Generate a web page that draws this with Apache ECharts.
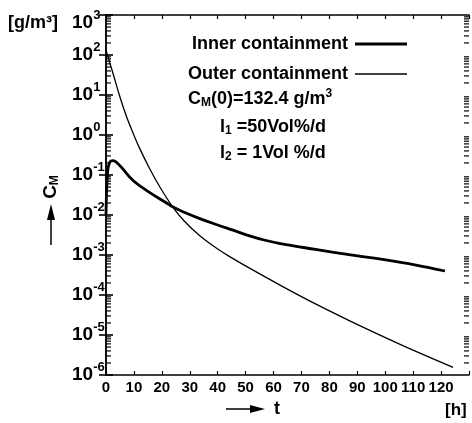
<!DOCTYPE html>
<html><head><meta charset="utf-8">
<script src="https://cdn.jsdelivr.net/npm/echarts@6/dist/echarts.min.js"></script>
<style>html,body{margin:0;padding:0;background:#fff}#c{width:472px;height:423px}</style>
</head><body><div id="c"></div>
<script>
// ---- data ----
const timeInner = [0, 0.5, 1.2, 2.5, 5, 9.8, 15.7, 21.7, 24, 28, 33.6, 40, 45.5, 51.4, 57, 62, 75, 87, 99, 111, 121.4];
const concInner = [0.01, 0.1, 0.2, 0.229, 0.17, 0.0715, 0.0363, 0.02, 0.0158, 0.01175, 0.00813, 0.00562, 0.00417, 0.00302, 0.00234, 0.00195, 0.00138, 0.00102, 0.000776, 0.000562, 0.000398];
const timeOuter = [0, 2.6, 5, 7.4, 9.8, 12.1, 15.7, 19.3, 24, 28, 33.6, 40, 45.5, 51.4, 63.3, 75.2, 87.1, 99, 111, 124.3];
const concOuter = [132.4, 33.1, 8.91, 2.82, 1.07, 0.457, 0.141, 0.0501, 0.0155, 0.00708, 0.00302, 0.00141, 0.000813, 0.000468, 0.000162, 0.0000589, 0.0000229, 0.00000933, 0.00000389, 0.00000155];
const xTickLabels = [0, 10, 20, 30, 40, 50, 60, 70, 80, 90, 100, 110, 120];
const yDecadeExponents = [-6, -5, -4, -3, -2, -1, 0, 1, 2, 3];
const minorMantissas = [2, 3, 4, 5, 6, 7, 8, 9];
const seriesNames = ['Inner containment', 'Outer containment'];

const SANS = '"Liberation Sans", Arial, sans-serif';
const X_MAX = 130;

const minorTickValues = [];
yDecadeExponents.slice(0, -1).forEach(e => minorMantissas.forEach(m => minorTickValues.push([X_MAX / 2, m * Math.pow(10, e)])));

const chart = echarts.init(document.getElementById('c'), null, {renderer: 'canvas'});
const yLabelRich = {
  b: {fontSize: 19, fontWeight: 'bold', fontFamily: SANS, color: '#000'},
  s: {fontSize: 13, fontWeight: 'bold', fontFamily: SANS, color: '#000', padding: [0, 0, 16, 0]},
  bt: {fontSize: 19, fontWeight: 'bold', fontFamily: SANS, color: '#000', padding: [16, 0, 0, 0]},
  st: {fontSize: 13, fontWeight: 'bold', fontFamily: SANS, color: '#000', padding: [16, 0, 16, 0]}
};
const axisLineStyle = {color: '#000', width: 1.5};

chart.setOption({
  animation: false,
  backgroundColor: '#fff',
  grid: {left: 106, right: 2, top: 15, bottom: 48, containLabel: false},
  legend: {
    data: [
      {name: seriesNames[0], icon: 'path://M0,0h52v3h-52z'},
      {name: seriesNames[1], icon: 'path://M0,0h52v1.4h-52z'}
    ],
    orient: 'vertical', left: 183, top: 30, align: 'right',
    itemWidth: 52, itemHeight: 12, itemGap: 12,
    textStyle: {fontSize: 18, fontWeight: 'bold', fontFamily: SANS, color: '#000', padding: [0, 2, 0, 0]}
  },
  xAxis: [{
    type: 'value', min: 0, max: X_MAX, interval: 10, position: 'bottom',
    axisLine: {show: true, lineStyle: axisLineStyle},
    axisTick: {show: true, inside: true, length: 4, lineStyle: {color: '#000', width: 1.2}},
    axisLabel: {margin: 5, fontSize: 15, fontWeight: 'bold', fontFamily: SANS, color: '#000',
      formatter: v => xTickLabels.indexOf(v) >= 0 ? String(v) : ''},
    splitLine: {show: false}
  }, {
    type: 'value', min: 0, max: X_MAX, interval: 10, position: 'top',
    axisLine: {show: true, lineStyle: axisLineStyle},
    axisTick: {show: true, inside: true, length: 4, lineStyle: {color: '#000', width: 1.2}},
    axisLabel: {show: false}, splitLine: {show: false}
  }],
  yAxis: [{
    type: 'log', logBase: 10, min: 1e-6, max: 1e3, position: 'left',
    axisLine: {show: true, lineStyle: axisLineStyle},
    axisTick: {show: true, inside: true, length: 7, lineStyle: {color: '#000', width: 1.6}},
    axisLabel: {margin: 34, align: 'left', rich: yLabelRich,
      formatter: v => { const e = Math.round(Math.log10(v)); const k = e === 3 ? 't' : ''; return '{b' + k + '|10}{s' + k + '|' + e + '}'; }},
    splitLine: {show: false}
  }, {
    type: 'log', logBase: 10, min: 1e-6, max: 1e3, position: 'right',
    axisLine: {show: true, lineStyle: axisLineStyle},
    axisTick: {show: true, inside: true, length: 7, lineStyle: {color: '#000', width: 1.6}},
    axisLabel: {show: false}, splitLine: {show: false}
  }],
  series: [{
    name: seriesNames[0], type: 'line', smooth: 0.4, showSymbol: false, symbol: 'none',
    data: timeInner.map((t, i) => [t, concInner[i]]),
    lineStyle: {color: '#000', width: 2.8}, itemStyle: {color: '#000'}, z: 3
  }, {
    name: seriesNames[1], type: 'line', smooth: 0.4, showSymbol: false, symbol: 'none',
    data: timeOuter.map((t, i) => [t, concOuter[i]]),
    lineStyle: {color: '#000', width: 1.3}, itemStyle: {color: '#000'}, z: 3
  }, {
    name: 'minorTicks', type: 'custom', clip: false, silent: true, z: 5,
    data: minorTickValues,
    renderItem: (params, api) => {
      const v = api.value(1);
      const pl = api.coord([0, v]);
      const pr = api.coord([X_MAX, v]);
      return {type: 'group', children: [
        {type: 'rect', shape: {x: pl[0], y: pl[1] - 0.6, width: 5, height: 1.2}, style: {fill: '#000'}},
        {type: 'rect', shape: {x: pr[0] - 5, y: pr[1] - 0.6, width: 5, height: 1.2}, style: {fill: '#000'}}
      ]};
    }
  }],
  graphic: [
    {type: 'text', x: 8, y: 23, style: {text: '[g/m³]', fontSize: 18, fontWeight: 'bold', fontFamily: SANS, fill: '#000', verticalAlign: 'middle'}},
    {type: 'text', x: 445, y: 410, style: {text: '[h]', fontSize: 17, fontWeight: 'bold', fontFamily: SANS, fill: '#000', verticalAlign: 'middle'}},
    {type: 'line', shape: {x1: 226, y1: 409, x2: 252, y2: 409}, style: {stroke: '#000', lineWidth: 1.5}},
    {type: 'polygon', shape: {points: [[250, 405], [265, 409], [250, 413]]}, style: {fill: '#000'}},
    {type: 'text', x: 274, y: 409, style: {text: 't', fontSize: 18, fontWeight: 'bold', fontFamily: SANS, fill: '#000', verticalAlign: 'middle'}},
    {type: 'line', shape: {x1: 51, y1: 245, x2: 51, y2: 218}, style: {stroke: '#000', lineWidth: 1.5}},
    {type: 'polygon', shape: {points: [[47, 220], [51, 204], [55, 220]]}, style: {fill: '#000'}},
    {type: 'text', x: 51, y: 187, rotation: Math.PI / 2,
      style: {text: '{c|C}{m|M}', align: 'center', verticalAlign: 'middle',
        rich: {c: {fontSize: 19, fontWeight: 'bold', fontFamily: SANS, fill: '#000'},
               m: {fontSize: 12, fontWeight: 'bold', fontFamily: SANS, fill: '#000', padding: [8, 0, 0, 0]}}}},
    {type: 'text', x: 188, y: 99, style: {text: '{n|C}{sub|M}{n|(0)=132.4 g/m}{sup|3}', verticalAlign: 'middle',
      rich: {n: {fontSize: 18, fontWeight: 'bold', fontFamily: SANS, fill: '#000'},
             sub: {fontSize: 12, fontWeight: 'bold', fontFamily: SANS, fill: '#000', padding: [8, 0, 0, 0]},
             sup: {fontSize: 12, fontWeight: 'bold', fontFamily: SANS, fill: '#000', padding: [0, 0, 10, 0]}}}},
    {type: 'text', x: 220, y: 127, style: {text: '{n|l}{sub|1}{n| =50Vol%/d}', verticalAlign: 'middle',
      rich: {n: {fontSize: 18, fontWeight: 'bold', fontFamily: SANS, fill: '#000'},
             sub: {fontSize: 12, fontWeight: 'bold', fontFamily: SANS, fill: '#000', padding: [8, 0, 0, 0]}}}},
    {type: 'text', x: 220, y: 153, style: {text: '{n|l}{sub|2}{n| = 1Vol %/d}', verticalAlign: 'middle',
      rich: {n: {fontSize: 18, fontWeight: 'bold', fontFamily: SANS, fill: '#000'},
             sub: {fontSize: 12, fontWeight: 'bold', fontFamily: SANS, fill: '#000', padding: [8, 0, 0, 0]}}}}
  ]
});
</script></body></html>
